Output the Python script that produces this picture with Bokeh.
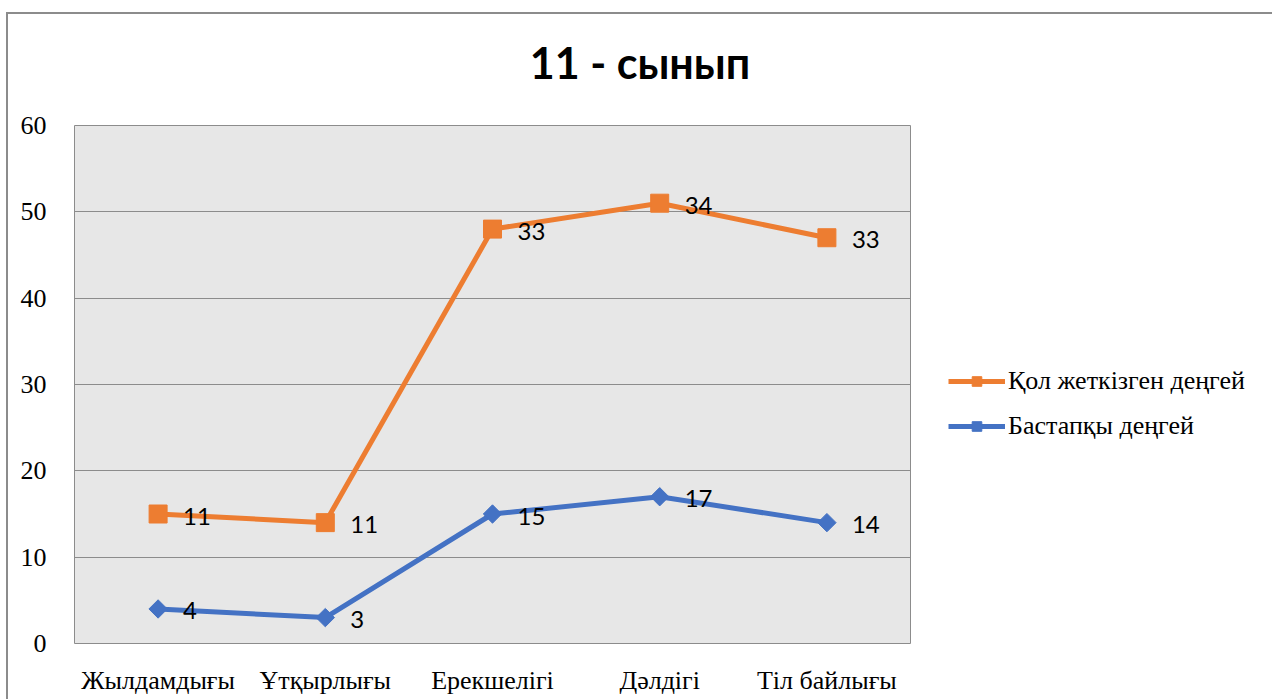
from bokeh.plotting import figure
from bokeh.models import ColumnDataSource, Legend, LegendItem, FixedTicker, Div
from bokeh.layouts import column
from bokeh.core.properties import value
from bokeh.embed import file_html
from bokeh.resources import INLINE
import math

categories = ["Жылдамдығы", "Ұтқырлығы", "Ерекшелігі", "Дәлдігі", "Тіл байлығы"]
achieved_values = [15, 14, 48, 51, 47]
achieved_labels = ["11", "11", "33", "34", "33"]
initial_values = [4, 3, 15, 17, 14]
initial_labels = ["4", "3", "15", "17", "14"]
title_text = "11 - сынып"
series_names = ["Қол жеткізген деңгей", "Бастапқы деңгей"]
y_ticks = [0, 10, 20, 30, 40, 50, 60]

ORANGE = "#ED7D31"
BLUE = "#4472C4"
SERIF = "Times New Roman"

title_div = Div(text=title_text, width=1254, height=80,
                styles={"font-family": "Lato", "font-weight": "bold", "font-size": "43px",
                        "text-align": "center", "line-height": "88px", "color": "black",
                        "width": "1254px", "overflow": "visible"})

p = figure(x_range=categories, y_range=(0, 60), width=1264, height=595,
           frame_width=836, frame_height=518, title_location=None,
           min_border_left=66, min_border_right=362, min_border_top=21, min_border_bottom=56,
           output_backend="svg", toolbar_location=None)

p.background_fill_color = "#E7E7E7"
p.border_fill_color = "white"
p.outline_line_color = "#8C8C8C"
p.outline_line_width = 1

p.xgrid.grid_line_color = None
p.ygrid.grid_line_color = "#8C8C8C"
p.ygrid.grid_line_width = 1

for ax in (p.xaxis, p.yaxis):
    ax.axis_line_color = None
    ax.major_tick_line_color = None
    ax.minor_tick_line_color = None
    ax.major_label_text_font = SERIF
    ax.major_label_text_font_size = "26px"
    ax.major_label_text_color = "black"
p.yaxis.ticker = FixedTicker(ticks=y_ticks)
p.yaxis.major_label_standoff = 22
p.xaxis.major_label_standoff = 16

src_a = ColumnDataSource(dict(x=categories, y=achieved_values, lab=achieved_labels))
src_i = ColumnDataSource(dict(x=categories, y=initial_values, lab=initial_labels))

la = p.line("x", "y", source=src_a, line_color=ORANGE, line_width=5)
ma = p.scatter("x", "y", source=src_a, marker="square", size=18, fill_color=ORANGE, line_color=ORANGE)
li = p.line("x", "y", source=src_i, line_color=BLUE, line_width=5)
mi = p.scatter("x", "y", source=src_i, marker="square", angle=math.pi / 4, size=13,
               fill_color=BLUE, line_color=BLUE)

for src in (src_a, src_i):
    p.text("x", "y", text="lab", source=src, x_offset=25, y_offset=2,
           text_font=value("Lato"), text_font_size="24px", text_color="black",
           text_baseline="middle", text_align="left")

legend = Legend(items=[LegendItem(label=series_names[0], renderers=[la, ma]),
                       LegendItem(label=series_names[1], renderers=[li, mi])],
                location=(38, 202), orientation="vertical")
legend.glyph_width = 57
legend.glyph_height = 24
legend.spacing = 15
legend.padding = 0
legend.margin = 0
legend.label_standoff = 3
legend.border_line_color = None
legend.background_fill_alpha = 0
legend.label_text_font = SERIF
legend.label_text_font_size = "26px"
legend.label_text_color = "black"
legend.label_height = 24
p.add_layout(legend, "right")

layout = column(title_div, p, spacing=0)
layout.styles = {"border-left": "2px solid #8C8C8C", "border-top": "2px solid #8C8C8C",
                 "margin-left": "6px", "margin-top": "12px"}

open("out.html", "w").write(file_html(layout, INLINE))
